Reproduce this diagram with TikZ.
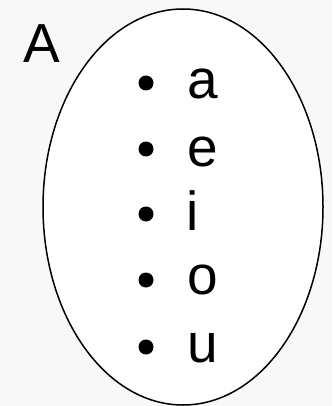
\documentclass[tikz,border=0pt]{standalone}
\usepackage{fontspec}
\setmainfont{Liberation Sans}
\usepackage{tikz}
\pgfdeclarelayer{bglayer}
\pgfdeclarelayer{edgelayer}
\pgfdeclarelayer{nodelayer}
\pgfsetlayers{bglayer,edgelayer,nodelayer,main}
\definecolor{bggray}{HTML}{F8F8F8}
\tikzstyle{none}=[inner sep=0pt]
\tikzstyle{letter}=[inner sep=0pt, anchor=base, font=\fontsize{55}{60}\selectfont]
\tikzstyle{dot}=[circle, fill=black, inner sep=0pt, minimum size=15pt]
\tikzstyle{set}=[draw=black, fill=white, line width=1.5pt]

\begin{document}
\begin{tikzpicture}[x=1pt, y=1pt]
			\begin{pgfonlayer}{bglayer}
			\fill [bggray] (0, 0) rectangle (332, -406);
			\end{pgfonlayer}
			\useasboundingbox (0, 0) rectangle (332, -406);
			\begin{pgfonlayer}{nodelayer}
			\node [style=letter] (A) at (42, -63) {A};
			\node [style=dot] (0) at (146, -83) {};
			\node [style=dot] (1) at (146, -149) {};
			\node [style=dot] (2) at (146, -214) {};
			\node [style=dot] (3) at (146, -280) {};
			\node [style=dot] (4) at (146, -347) {};
			\node [style=letter] (a) at (203, -99) {a};
			\node [style=letter] (e) at (203, -166) {e};
			\node [style=letter] (i) at (193, -230) {i};
			\node [style=letter] (o) at (203, -294) {o};
			\node [style=letter] (u) at (203, -362) {u};
			\end{pgfonlayer}
			\begin{pgfonlayer}{edgelayer}
			\node [style=none] (c) at (183, -207) {};
			\draw [style=set] (c.center) ellipse [x radius=140, y radius=198];
			\end{pgfonlayer}
\end{tikzpicture}
\end{document}
